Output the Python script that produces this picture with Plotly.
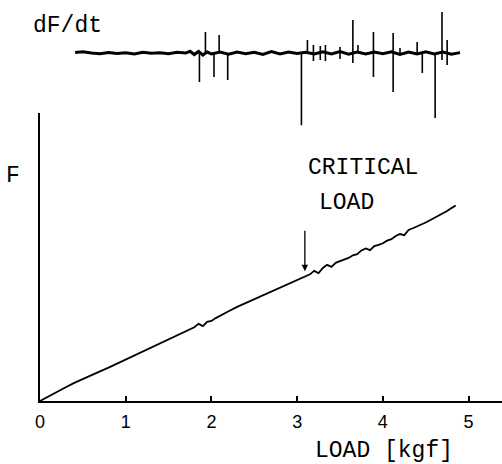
import plotly.graph_objects as go

# ---- Data ----
load_tick_vals = [0, 1, 2, 3, 4, 5]
load_tick_text = ["0", "1", "2", "3", "4", "5"]

f_load = [0.0, 0.1, 0.2, 0.3, 0.4, 0.5, 0.6, 0.7, 0.8, 0.9, 1.0, 1.1, 1.2, 1.3, 1.4,
          1.5, 1.6, 1.7, 1.8, 1.85, 1.9, 1.95, 2.0, 2.05, 2.1, 2.2, 2.3, 2.4, 2.5,
          2.6, 2.7, 2.8, 2.9, 3.0, 3.1, 3.15, 3.2, 3.25, 3.3, 3.35, 3.4, 3.45, 3.5,
          3.55, 3.6, 3.65, 3.7, 3.75, 3.8, 3.85, 3.9, 3.95, 4.0, 4.05, 4.1, 4.15,
          4.2, 4.25, 4.3, 4.35, 4.4, 4.45, 4.5, 4.55, 4.6, 4.65, 4.7, 4.75, 4.8, 4.85]
f_value = [0.00, 0.17, 0.33, 0.48, 0.63, 0.77, 0.90, 1.03, 1.16, 1.30, 1.44, 1.59, 1.73,
           1.87, 2.00, 2.14, 2.28, 2.43, 2.56, 2.68, 2.60, 2.75, 2.78, 2.88, 2.97, 3.12,
           3.27, 3.40, 3.53, 3.66, 3.79, 3.93, 4.06, 4.19, 4.33, 4.40, 4.52, 4.44, 4.62,
           4.73, 4.66, 4.80, 4.86, 4.92, 4.97, 5.06, 5.10, 5.23, 5.30, 5.24, 5.38, 5.42,
           5.48, 5.57, 5.62, 5.73, 5.80, 5.76, 5.94, 6.00, 6.06, 6.13, 6.20, 6.28, 6.36,
           6.42, 6.52, 6.60, 6.70, 6.79]

# dF/dt baseline trace (relative units)
d_load = [0.41, 0.5, 0.6, 0.7, 0.8, 0.9, 1.0, 1.1, 1.2, 1.3, 1.4, 1.5, 1.6, 1.7, 1.75,
          1.8, 1.85, 1.9, 1.95, 2.0, 2.1, 2.2, 2.3, 2.4, 2.5, 2.6, 2.7, 2.8, 2.9, 3.0,
          3.1, 3.2, 3.3, 3.4, 3.5, 3.6, 3.7, 3.8, 3.9, 4.0, 4.1, 4.2, 4.3, 4.4, 4.5,
          4.6, 4.7, 4.8, 4.9]
d_value = [0.5, 1.2, 0.0, -0.8, 0.6, -0.5, 0.3, -1.0, 0.8, -0.3, 0.2, -0.6, 0.7, 0.0, 1.8,
           -1.5, 1.6, -2.0, 1.0, -0.8, 0.9, -1.2, 1.0, -0.6, 0.8, -1.3, 1.5, -0.8, 1.0, -0.4,
           0.8, -1.0, 1.2, -0.8, 1.4, -1.2, 0.9, -1.0, 1.1, -0.7, 1.2, -1.4, 0.9, -1.0, 1.3,
           -0.8, 1.0, -1.2, 0.4]

# dF/dt spikes: position, upward extent, downward extent
spike_load = [1.86, 1.93, 2.03, 2.09, 2.19, 3.05, 3.12, 3.19, 3.27, 3.33, 3.50, 3.65,
              3.71, 3.89, 4.12, 4.20, 4.40, 4.46, 4.61, 4.69, 4.75]
spike_up = [0, 21, 0, 18, 0, 0, 13, 8, 7, 8, 6, 33, 8, 21, 20, 5, 11, 0, 0, 41, 13]
spike_down = [-29, 0, -24, 0, -27, -72, 0, -8, -7, -8, -6, -10, 0, -24, -39, 0, 0, -20, -65, -7, -12]

critical_load = 3.09
arrow_tip_f = 4.51
arrow_tail_f = 5.97

# ---- Build figure ----
fig = go.Figure()

fig.add_trace(go.Scatter(x=f_load, y=f_value, mode="lines",
                         line=dict(color="black", width=1.8),
                         hoverinfo="skip", showlegend=False))

fig.add_trace(go.Scatter(x=d_load, y=d_value, mode="lines", yaxis="y2",
                         line=dict(color="black", width=3),
                         hoverinfo="skip", showlegend=False))

sx, sy = [], []
for xv, up, dn in zip(spike_load, spike_up, spike_down):
    sx += [xv, xv, None]
    sy += [dn, up, None]
fig.add_trace(go.Scatter(x=sx, y=sy, mode="lines", yaxis="y2",
                         line=dict(color="black", width=1.6),
                         hoverinfo="skip", showlegend=False))

mono = "Courier New, Liberation Mono, monospace"
tfont = dict(family=mono, size=23, color="black")

fig.add_annotation(x=critical_load, y=arrow_tip_f, ax=critical_load, ay=arrow_tail_f,
                   xref="x", yref="y", axref="x", ayref="y", text="",
                   showarrow=True, arrowhead=2, arrowsize=1, arrowwidth=1.3,
                   arrowcolor="black")

fig.add_annotation(x=3.77, y=0.588, xref="x", yref="paper", text="CRITICAL",
                   xanchor="center", yanchor="middle", showarrow=False, font=tfont)
fig.add_annotation(x=3.57, y=0.50, xref="x", yref="paper", text="LOAD",
                   xanchor="center", yanchor="middle", showarrow=False, font=tfont)
fig.add_annotation(x=4.01, y=-0.126, xref="x", yref="paper", text="LOAD [kgf]",
                   xanchor="center", yanchor="middle", showarrow=False, font=tfont)
fig.add_annotation(x=0.315, y=0.948, xref="x", yref="paper", text="dF/dt",
                   xanchor="center", yanchor="middle", showarrow=False, font=tfont)
fig.add_annotation(x=-0.058, y=0.568, xref="paper", yref="paper", text="F",
                   xanchor="center", yanchor="middle", showarrow=False, font=tfont)

fig.update_layout(
    width=502, height=464,
    margin=dict(l=40, r=0, t=5, b=63),
    paper_bgcolor="white", plot_bgcolor="white",
    xaxis=dict(range=[0, 5.39], showgrid=False, zeroline=False,
               showline=True, linecolor="black", linewidth=2,
               tickmode="array", tickvals=load_tick_vals, ticktext=load_tick_text,
               ticks="inside", ticklen=5, tickwidth=1.5, tickcolor="black",
               tickfont=dict(family="Liberation Sans, Arial, sans-serif", size=18, color="black"),
               ticklabelstandoff=3),
    yaxis=dict(domain=[0, 0.727], range=[0, 10], showgrid=False, zeroline=False,
               showline=True, linecolor="black", linewidth=2,
               showticklabels=False, ticks=""),
    yaxis2=dict(domain=[0.684, 1.0], range=[-77, 48], showgrid=False, zeroline=False,
                showline=False, showticklabels=False, ticks="", anchor="x"),
)

fig.write_html("out.html", config={"displayModeBar": False},
               post_script="document.body.style.margin='0px';document.body.style.overflow='hidden';")
